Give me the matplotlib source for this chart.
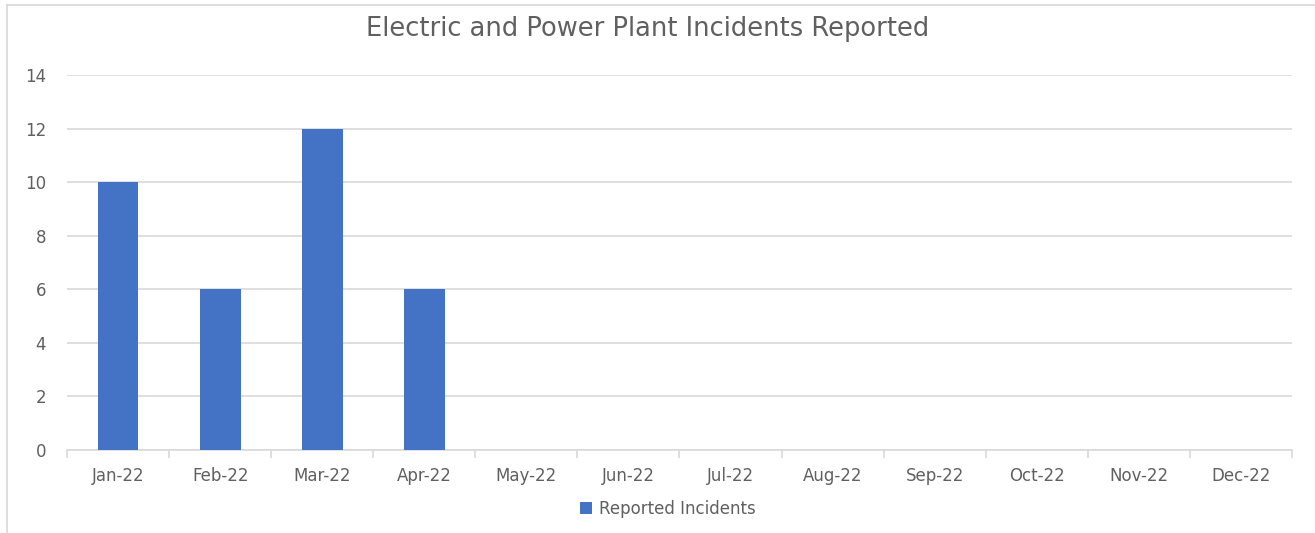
import matplotlib
matplotlib.use("Agg")
import matplotlib.pyplot as plt
from matplotlib.lines import Line2D

months = ["Jan-22", "Feb-22", "Mar-22", "Apr-22", "May-22", "Jun-22",
          "Jul-22", "Aug-22", "Sep-22", "Oct-22", "Nov-22", "Dec-22"]
incidents = [10, 6, 12, 6, 0, 0, 0, 0, 0, 0, 0, 0]
yticks = [0, 2, 4, 6, 8, 10, 12, 14]
title = "Electric and Power Plant Incidents Reported"
series_name = "Reported Incidents"

plt.rcParams['font.family'] = ['DejaVu Sans']
W, H = 1315, 533
fig = plt.figure(figsize=(W / 100, H / 100), dpi=100)
fig.patch.set_facecolor("white")

# chart border (cropped at right and bottom)
fig.add_artist(Line2D([7 / W, 1.0], [1 - 5 / H, 1 - 5 / H], transform=fig.transFigure,
                      color="#d9d9d9", lw=1.2))
fig.add_artist(Line2D([7 / W, 7 / W], [1 - 5 / H, 0], transform=fig.transFigure,
                      color="#d9d9d9", lw=1.2))

left, right, top, bottom = 67, 1292, 75, 450
ax = fig.add_axes([left / W, 1 - bottom / H, (right - left) / W, (bottom - top) / H])

x = list(range(len(months)))
bars = ax.bar(x, incidents, width=0.4, color="#4472C4", label=series_name, zorder=3)

ax.set_xlim(-0.5, len(months) - 0.5)
ax.set_ylim(0, 14)
ax.set_yticks(yticks)
ax.set_yticklabels([str(v) for v in yticks])
ax.set_xticks(x)
ax.set_xticklabels(months)
ax.set_xticks([i - 0.5 for i in range(len(months) + 1)], minor=True)

ax.grid(axis="y", color="#d9d9d9", lw=1.2, zorder=0)
for s in ["top", "right", "left"]:
    ax.spines[s].set_visible(False)
ax.spines["bottom"].set_color("#d9d9d9")
ax.spines["bottom"].set_linewidth(1.2)

ax.tick_params(axis="y", length=0, pad=15, labelsize=12, labelcolor="#606060")
ax.tick_params(axis="x", which="major", length=0, pad=12, labelsize=12, labelcolor="#606060")
ax.tick_params(axis="x", which="minor", length=6, width=1.2, color="#d9d9d9")

fig.text(648 / W, 1 - 29 / H, title, ha="center", va="center", fontsize=18.5, color="#606060")

leg = fig.legend(handles=[bars], labels=[series_name], loc="center",
                 bbox_to_anchor=(668 / W, 1 - 509 / H), frameon=False, fontsize=12,
                 handlelength=0.7, handleheight=0.7, handletextpad=0.4, labelcolor="#606060")

fig.savefig("out.png", dpi=100, facecolor="white")
